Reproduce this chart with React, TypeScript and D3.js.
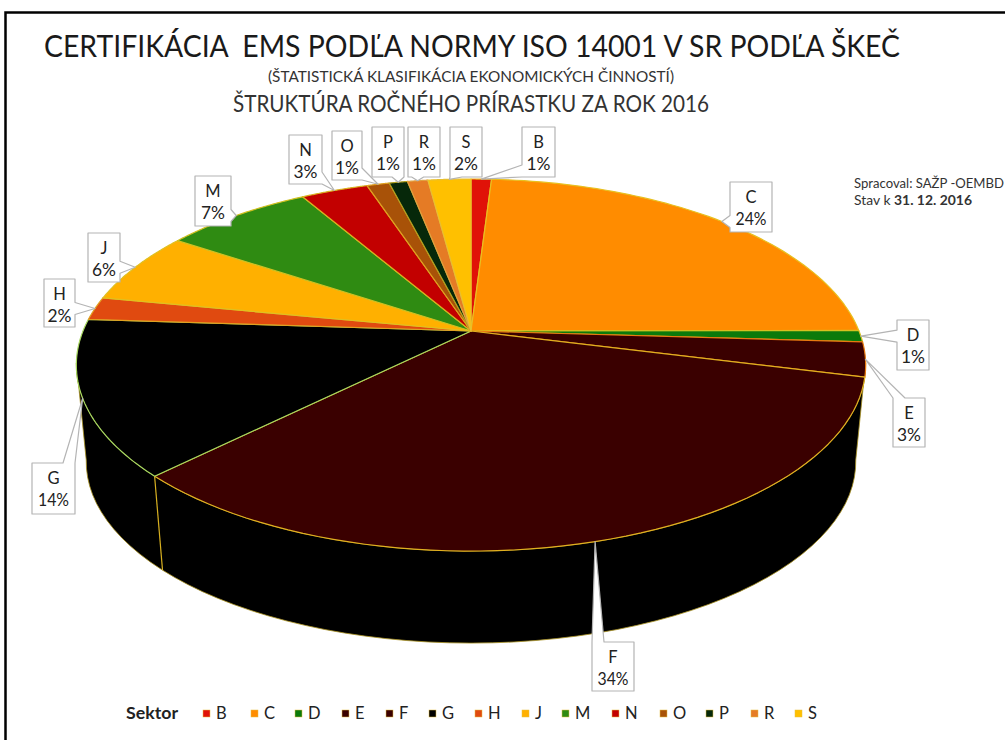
import React from "react";
import * as d3 from "d3";

const sectors = ["B","C","D","E","F","G","H","J","M","N","O","P","R","S"];
const shares = [1,24,1,3,33.7,13.5,2,6.3,7.3,3.3,1.1,0.9,1,2.1];
const fills = ["#e01208","#ff8c00","#0b7a0b","#3a0000","#3a0000","#000000","#e04a10","#ffb000","#2f8b12","#c20000","#a85208","#06280a","#e57b25","#ffc000"];
const edges = ["#e8b020","#e8c020","#d8c020","#e87a10","#e0b020","#a8d860","#e0a020","#e0c020","#d0c020","#d8b020","#e0a020","#b0a020","#e0a040","#e8c030"];

// label box layout: left, top, right, bottom
const boxes: number[][] = [
  [522,127,555,177],[730,182,772,232],[897,320,929,370],[893,398,925,447],
  [592,642,634,691],[32,463,75,514],[44,279,75,327],[88,233,120,282],
  [195,176,231,226],[289,135,322,184],[332,131,362,180],[372,127,404,177],
  [408,127,440,177],[450,127,482,177],
];
const legendSwatchX = [203,251,295,342,386,429,475,522,562,612,660,706,751,795];

const W = 1005, H = 740;
const cx = 471, cy = 331, A = 388, B = 179.8, k = 0.183;
const shrink = 0.975, vanishY = 4232;
const xScale = d3.scaleLinear().domain([0, 1]).range([0, A]);
const yScale = d3.scaleLinear().domain([0, 1]).range([0, B]);

type P = [number, number];
const rim = (t: number): P => {
  const u = Math.sin(t), v = -Math.cos(t), w = 1 - k * v;
  return [cx + xScale(u) / w, cy + yScale(v) / w];
};
const low = (p: P): P => [cx + (p[0] - cx) * shrink, vanishY + (p[1] - vanishY) * shrink];
const sample = (a: number, b: number): P[] => d3.range(0, 61).map((i) => rim(a + ((b - a) * i) / 60));
const line = d3.line<P>();

function callout(box: number[], t: P): string {
  const [l, tp, r, b] = box;
  const dl = l - t[0], dr = t[0] - r, dt = tp - t[1], db = t[1] - b;
  const m = Math.max(dl, dr, dt, db);
  const hw = 6;
  const cl = (v: number, a: number, z: number) => Math.max(a + hw, Math.min(z - hw, v));
  const pts: P[] = [[l, tp]];
  if (m === dt) { const c = cl(t[0], l, r); pts.push([c - hw, tp], t, [c + hw, tp]); }
  pts.push([r, tp]);
  if (m === dr) { const c = cl(t[1], tp, b); pts.push([r, c - hw], t, [r, c + hw]); }
  pts.push([r, b]);
  if (m === db) { const c = cl(t[0], l, r); pts.push([c + hw, b], t, [c - hw, b]); }
  pts.push([l, b]);
  if (m === dl) { const c = cl(t[1], tp, b); pts.push([l, c + hw], t, [l, c - hw]); }
  return line(pts) + "Z";
}

const font = "Lato, Carlito, 'Noto Sans', sans-serif";

export default function App() {
  const arcs = d3.pie<number>().sort(null)(shares);
  const wallTop = sample((100 * Math.PI) / 180, (260 * Math.PI) / 180);
  const wall = [...wallTop, ...wallTop.map(low).reverse()];
  const fg = arcs[4].endAngle;
  const fgTop = rim(fg);
  return (
    <svg width={W} height={H} style={{ position: "absolute", left: 0, top: 0, background: "#fff", fontFamily: font }}>
      <path d="M5.5,740V12.5H1005" fill="none" stroke="#000" strokeWidth={2.5} />
      <text x={472} y={57} textAnchor="middle" fontSize={31} fill="#1a1a1a" textLength={856} lengthAdjust="spacingAndGlyphs">{"CERTIFIKÁCIA\u00A0 EMS PODĽA NORMY ISO 14001 V SR PODĽA ŠKEČ"}</text>
      <text x={471} y={82} textAnchor="middle" fontSize={15.5} fill="#333" textLength={406} lengthAdjust="spacingAndGlyphs">(ŠTATISTICKÁ KLASIFIKÁCIA EKONOMICKÝCH ČINNOSTÍ)</text>
      <text x={471} y={112} textAnchor="middle" fontSize={23} fill="#333" textLength={476} lengthAdjust="spacingAndGlyphs">ŠTRUKTÚRA ROČNÉHO PRÍRASTKU ZA ROK 2016</text>
      <text x={854} y={188} fontSize={13} fill="#333" textLength={150} lengthAdjust="spacingAndGlyphs">Spracoval: SAŽP -OEMBD</text>
      <text x={854} y={205} fontSize={13} fill="#333" textLength={118} lengthAdjust="spacingAndGlyphs">Stav k <tspan fontWeight={700}>31. 12. 2016</tspan></text>

      <path d={line(wall) + "Z"} fill="#000" stroke="#a89020" strokeWidth={0.8} />
      <line x1={fgTop[0]} y1={fgTop[1]} x2={low(fgTop)[0]} y2={low(fgTop)[1]} stroke="#d8b020" strokeWidth={1.2} />
      {arcs.map((a, i) => (
        <path key={sectors[i]} d={line([[cx, cy], ...sample(a.startAngle, a.endAngle)]) + "Z"} fill={fills[i]} stroke={edges[i]} strokeWidth={1.2} strokeLinejoin="round" />
      ))}
      {arcs.map((a, i) => {
        const t = rim((a.startAngle + a.endAngle) / 2);
        const bx = boxes[i];
        const mid = (bx[0] + bx[2]) / 2;
        return (
          <g key={sectors[i]}>
            <path d={callout(bx, t)} fill="#fff" stroke="#b4b4b4" strokeWidth={1.2} strokeLinejoin="round" />
            <text x={mid} y={bx[1] + 21} textAnchor="middle" fontSize={16.5} fill="#222">{sectors[i]}</text>
            <text x={mid} y={bx[1] + 43} textAnchor="middle" fontSize={16.5} fill="#222" textLength={shares[i] >= 9.5 ? 31 : 24} lengthAdjust="spacingAndGlyphs">{Math.round(shares[i])}%</text>
          </g>
        );
      })}

      <text x={126} y={719} fontSize={17} fontWeight={700} fill="#222" textLength={52} lengthAdjust="spacingAndGlyphs">Sektor</text>
      {sectors.map((s, i) => (
        <g key={s}>
          <rect x={legendSwatchX[i]} y={710} width={7} height={7} fill={fills[i]} stroke="#e8c040" strokeWidth={0.5} />
          <text x={legendSwatchX[i] + 13} y={719} fontSize={16.5} fill="#222">{s}</text>
        </g>
      ))}
    </svg>
  );
}
